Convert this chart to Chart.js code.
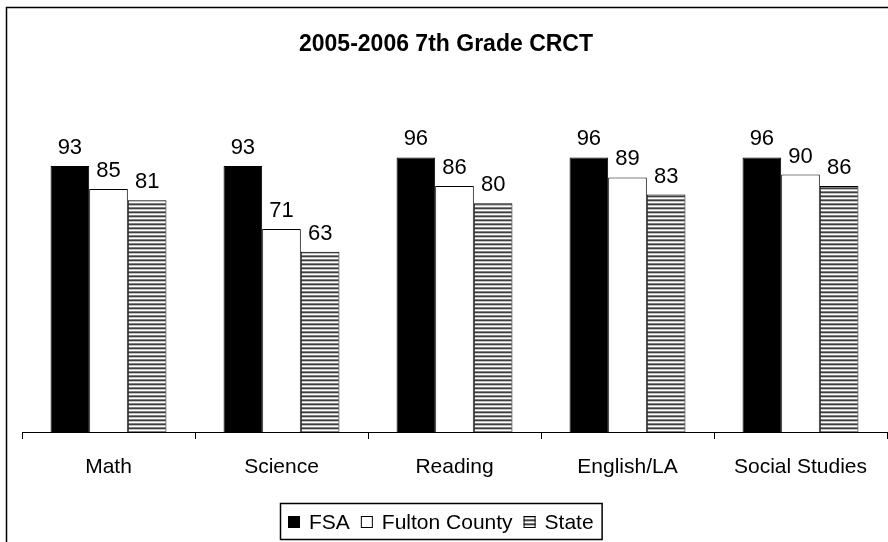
<!DOCTYPE html>
<html>
<head>
<meta charset="utf-8">
<script src="https://cdn.jsdelivr.net/npm/chart.js@4.4.0/dist/chart.umd.min.js"></script>
<style>
  html, body { margin: 0; padding: 0; background: #fff; }
  #wrap { width: 888px; height: 542px; }
</style>
</head>
<body>
<div id="wrap"><canvas id="c" width="888" height="542"></canvas></div>
<script>
// chart data
var subjects     = ['Math', 'Science', 'Reading', 'English/LA', 'Social Studies'];
var fsaScores    = [93, 93, 96, 96, 96];
var fultonScores = [85, 71, 86, 89, 90];
var stateScores  = [81, 63, 80, 83, 86];
var seriesNames  = ['FSA', 'Fulton County', 'State'];
var chartTitle   = '2005-2006 7th Grade CRCT';

var FONT = "'Liberation Sans', Arial, sans-serif";

// horizontal stripe fill for the State bars
function stripePattern() {
  var c = document.createElement('canvas');
  c.width = 4; c.height = 4;
  var x = c.getContext('2d');
  var rows = ['#404040', '#c0c0c0', '#ffffff', '#808080'];
  rows.forEach(function(col, i) { x.fillStyle = col; x.fillRect(0, i, 4, 1); });
  return x.createPattern(c, 'repeat');
}
var stripes = stripePattern();

var framePlugin = {
  id: 'frame',
  beforeDraw: function(chart) {
    var ctx = chart.ctx;
    ctx.save();
    ctx.fillStyle = '#fff';
    ctx.fillRect(0, 0, chart.width, chart.height);
    ctx.strokeStyle = '#000';
    ctx.lineWidth = 1.5;
    ctx.strokeRect(6.5, 7.5, 1000, 1000);
    ctx.restore();
  }
};

var valueLabels = {
  id: 'valueLabels',
  afterDatasetsDraw: function(chart) {
    var ctx = chart.ctx;
    ctx.save();
    ctx.font = '22px ' + FONT;
    ctx.fillStyle = '#000';
    ctx.textAlign = 'center';
    ctx.textBaseline = 'alphabetic';
    chart.data.datasets.forEach(function(ds, di) {
      chart.getDatasetMeta(di).data.forEach(function(bar, i) {
        ctx.fillText(String(ds.data[i]), bar.x, bar.y - 12);
      });
    });
    ctx.restore();
  }
};

var titleLegend = {
  id: 'titleLegend',
  afterDraw: function(chart) {
    var ctx = chart.ctx;
    var cx = chart.width / 2;
    ctx.save();
    ctx.fillStyle = '#000';
    ctx.textBaseline = 'middle';
    ctx.textAlign = 'center';
    ctx.font = 'bold 23px ' + FONT;
    ctx.fillText(chartTitle, cx + 2, 45);

    // legend
    ctx.font = '21px ' + FONT;
    ctx.textAlign = 'left';
    var box = 12, gap = 9, sep = 11, pad = 8;
    var total = 0;
    seriesNames.forEach(function(n, i) {
      total += box + gap + ctx.measureText(n).width + (i < seriesNames.length - 1 ? sep : 0);
    });
    var left = Math.round(cx - 3 - total / 2 - pad);
    var top = 503, h = 36, mid = top + h / 2 + 1;
    ctx.lineWidth = 1.5;
    ctx.strokeStyle = '#000';
    ctx.strokeRect(left + 0.5, top + 0.5, total + pad * 2, h);
    var x = left + pad;
    var fills = chart.data.datasets.map(function(d) { return d.backgroundColor; });
    seriesNames.forEach(function(n, i) {
      ctx.fillStyle = fills[i];
      ctx.fillRect(x, mid - box / 2, box, box);
      ctx.lineWidth = 1;
      ctx.strokeRect(x + 0.5, mid - box / 2 + 0.5, box - 1, box - 1);
      x += box + gap;
      ctx.fillStyle = '#000';
      ctx.fillText(n, x, mid + 1);
      x += ctx.measureText(n).width + sep;
    });
    ctx.restore();
  }
};

new Chart(document.getElementById('c'), {
  type: 'bar',
  data: {
    labels: subjects,
    datasets: [
      { label: seriesNames[0], data: fsaScores,    backgroundColor: '#000000', borderColor: '#000', borderWidth: 1 },
      { label: seriesNames[1], data: fultonScores, backgroundColor: '#ffffff', borderColor: '#000', borderWidth: 1 },
      { label: seriesNames[2], data: stateScores,  backgroundColor: stripes,   borderColor: '#000', borderWidth: 1 }
    ]
  },
  options: {
    responsive: false,
    animation: false,
    devicePixelRatio: 1,
    layout: { padding: { top: 146, left: 22, right: 1, bottom: 50 } },
    datasets: { bar: { categoryPercentage: 0.67, barPercentage: 1.0 } },
    plugins: {
      legend: { display: false },
      title: { display: false },
      tooltip: { enabled: false }
    },
    scales: {
      x: {
        grid: { drawOnChartArea: false, drawTicks: true, tickLength: 7, color: '#000', offset: true },
        border: { color: '#000', width: 1 },
        ticks: { color: '#000', font: { family: FONT, size: 21 }, padding: 16, maxRotation: 0, autoSkip: false },
        afterFit: function(s) { s.height = 60; }
      },
      y: { display: false, min: 0, max: 100 }
    }
  },
  plugins: [framePlugin, valueLabels, titleLegend]
});
</script>
</body>
</html>
